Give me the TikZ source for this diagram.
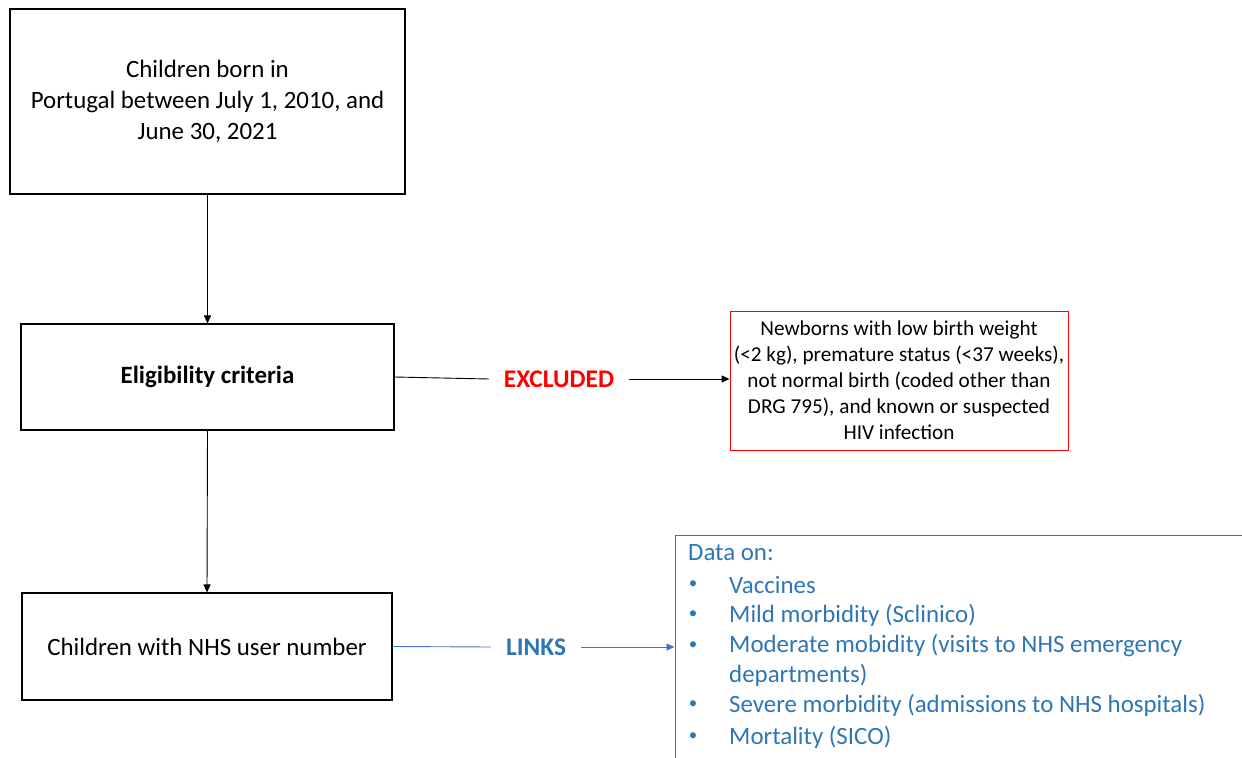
\documentclass[tikz,border=0pt]{standalone}
\usepackage{fontspec}
\setmainfont{Carlito}
\usetikzlibrary{arrows.meta}
\definecolor{msblue}{HTML}{2E75B6}
\definecolor{lineblue}{HTML}{4472C4}
\definecolor{msred}{HTML}{FF0000}
\tikzset{
  box/.style={draw=black, line width=1.1bp, rectangle, inner sep=0pt, align=center, font=\fontsize{25}{31}\selectfont},
  arr/.style={-{Triangle[length=8bp,width=7bp]}, line width=0.9bp},
  lbl/.style={inner xsep=15bp, inner ysep=0pt, font=\fontsize{25.5}{28}\selectfont\bfseries},
  item/.style={anchor=west, inner sep=0pt, text=msblue, font=\fontsize{25}{30}\selectfont},
  bul/.style={anchor=center, inner sep=0pt, text=msblue, font=\fontsize{17}{20}\selectfont},
}
\begin{document}
\begin{tikzpicture}[x=1bp,y=-1bp]
\useasboundingbox (0,0) rectangle (1242,758);
\clip (0,0) rectangle (1242,758);
\node[box, minimum width=395bp, minimum height=185bp] (born) at (207.5,101.5)
  {Children born in\\Portugal between July 1, 2010, and\\June 30, 2021};
\node[box, minimum width=373bp, minimum height=106bp] (elig) at (207.5,377)
  {\bfseries Eligibility criteria};
\node[box, minimum width=370bp, minimum height=107bp] (nhs) at (207,646.5)
  {Children with NHS user number};
\draw[arr] (born.south) -- (elig.north);
\draw[arr] (elig.south) -- (nhs.north);

\node[draw=msred, line width=0.9bp, rectangle, inner sep=0pt, minimum width=338bp, minimum height=139bp,
  align=center, font=\fontsize{21.3}{26}\selectfont] (excl) at (899,380.5)
  {Newborns with low birth weight\\(<2 kg), premature status (<37 weeks),\\not normal birth (coded other than\\DRG 795), and known or suspected\\HIV infection};
\node[lbl, text=msred] (exlbl) at (559,379) {EXCLUDED};
\draw[line width=0.9bp] (elig.east) -- (exlbl.west);
\draw[arr] (exlbl.east) -- (exlbl.east -| excl.west);

\node[draw=msblue, line width=1bp, rectangle, inner sep=0pt, minimum width=585bp, minimum height=245bp] (data) at (967.5,657.5) {};
\node[lbl, text=msblue] (lnk) at (536,647) {LINKS};
\draw[lineblue, line width=0.9bp] (nhs.east) -- (lnk.west);
\draw[arr, lineblue] (lnk.east) -- (lnk.east -| data.west);

\node[item] (d0) at (688,553) {Data on:};
\node[bul] (b1) at (693,585) {\textbullet};
\node[item] (d1) at (729,585) {Vaccines};
\node[bul] (b2) at (693,615) {\textbullet};
\node[item] (d2) at (729,615) {Mild morbidity (Sclinico)};
\node[bul] (b3) at (693,646) {\textbullet};
\node[item] (d3) at (729,646) {Moderate mobidity (visits to NHS emergency};
\node[item] (d3b) at (729,675) {departments)};
\node[bul] (b4) at (693,705) {\textbullet};
\node[item] (d4) at (729,705) {Severe morbidity (admissions to NHS hospitals)};
\node[bul] (b5) at (693,737) {\textbullet};
\node[item] (d5) at (729,737) {Mortality (SICO)};
\end{tikzpicture}
\end{document}
